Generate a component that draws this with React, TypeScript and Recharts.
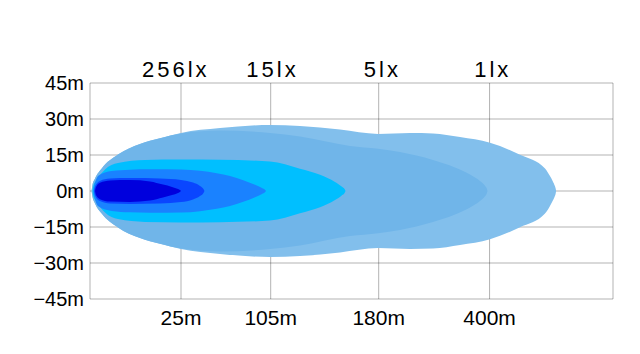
import { Area, AreaChart, CartesianGrid, XAxis, YAxis } from "recharts";

const yTicks = [45, 30, 15, 0, -15, -30, -45];
const yLabels = ["45m", "30m", "15m", "0m", "−15m", "−30m", "−45m"];

// bottom axis: distance markers (position along the beam, 0–100)
const distTicks = [17.4, 34.55, 55.2, 76.4];
const distLabels = ["25m", "105m", "180m", "400m"];

// top axis: illuminance at those distances
const luxTicks = [16.4, 34.9, 55.9, 77.0];
const luxLabels = ["256lx", "15lx", "5lx", "1lx"];

// beam contours, outermost first: position along the beam and half width (m)
const beam1X = [0.3, 0.45, 0.96, 2.24, 5.35, 9.56, 13.38, 17.4, 24.86, 34.42, 40.15, 47.8, 55.07, 61.19, 65.58, 70.75, 76.48, 82.22, 87.0, 87.95, 88.5, 88.85, 89.05, 89.12];
const beam1W = [0, 2.2, 5.2, 9.4, 15.2, 19.6, 22, 24.2, 26.2, 27.5, 27.1, 25.6, 23.8, 24.2, 24.0, 22.5, 20.1, 15.1, 9.4, 6.2, 4, 2.3, 0.9, 0];

const beam2X = [0.3, 0.45, 0.96, 2.24, 5.35, 9.56, 13.38, 17.4, 24.86, 34.42, 40.15, 49.71, 55.07, 59.27, 65.58, 69.79, 72.66, 74.57, 75.53, 75.9, 76.0];
const beam2W = [0, 2.2, 5.2, 9.4, 15.2, 19.6, 22, 24, 25.2, 24.2, 22.7, 18.8, 17.6, 16.2, 12.9, 9.8, 6.9, 4.2, 2.2, 0.8, 0];

const beam3X = [0.48, 0.62, 1.28, 2.87, 5.35, 10.52, 17.4, 24.86, 34.42, 40.15, 43.98, 46.85, 48.18, 48.7, 48.85];
const beam3W = [0, 2, 4.6, 9, 11.7, 12.9, 13.1, 13, 12.3, 9.3, 6.8, 3.8, 1.8, 0.7, 0];

const beam4X = [0.63, 0.75, 0.96, 1.59, 4.15, 7.65, 11.47, 17.4, 21.03, 24.23, 26.77, 29.31, 31.55, 32.89, 33.5, 33.65];
const beam4W = [0, 1.8, 3.5, 6.4, 8.3, 8.9, 9.1, 9, 8.4, 7.4, 6.2, 4.5, 2.6, 1.2, 0.4, 0];

const beam5X = [0.76, 0.88, 1.05, 1.91, 3.82, 7.65, 13.38, 17.4, 19.69, 21.03, 21.7, 21.89];
const beam5W = [0, 1.3, 2.3, 4.2, 5.2, 5.4, 5.2, 4.6, 3.5, 2.1, 0.8, 0];

const beam6X = [0.96, 1.08, 1.24, 1.91, 3.82, 7.65, 11.47, 13.96, 15.68, 16.83, 17.25, 17.4];
const beam6W = [0, 1.2, 2.0, 3.4, 4.4, 4.6, 4, 2.7, 1.7, 0.8, 0.3, 0];

const beams = [
  { xs: beam1X, ws: beam1W, color: "#82bfec" },
  { xs: beam2X, ws: beam2W, color: "#70b5e9" },
  { xs: beam3X, ws: beam3W, color: "#00bfff" },
  { xs: beam4X, ws: beam4W, color: "#1a82ff" },
  { xs: beam5X, ws: beam5W, color: "#0a46ff" },
  { xs: beam6X, ws: beam6W, color: "#0000dd" },
];

const toRange = (xs: number[], ws: number[]) =>
  xs.map((x, i) => ({ x, r: [-ws[i], ws[i]] }));

const font = "'Liberation Sans', Arial, sans-serif";

export default function App() {
  return (
    <div style={{ position: "absolute", left: 0, top: 0, background: "#fff" }}>
      <AreaChart width={640} height={354} margin={{ top: 0, right: 27, bottom: 0, left: 0 }}>
        {beams.map((b, i) => (
          <Area
            key={i}
            data={toRange(b.xs, b.ws)}
            dataKey="r"
            type="monotone"
            fill={b.color}
            fillOpacity={1}
            stroke="none"
            isAnimationActive={false}
          />
        ))}
        <CartesianGrid stroke="#000" strokeOpacity={0.3} />
        <XAxis
          dataKey="x"
          type="number"
          domain={[0, 100]}
          ticks={[0, ...distTicks, 100]}
          tickFormatter={(v: number) => {
            const i = distTicks.indexOf(v);
            return i >= 0 ? distLabels[i] : "";
          }}
          height={55}
          axisLine={false}
          tickLine={false}
          tickSize={6}
          tickMargin={5}
          tick={{ fontSize: 21, fill: "#000", fontFamily: font }}
          allowDataOverflow
        />
        <XAxis
          xAxisId="top"
          orientation="top"
          dataKey="x"
          type="number"
          domain={[0, 100]}
          ticks={luxTicks}
          tickFormatter={(v: number) => luxLabels[luxTicks.indexOf(v)] ?? ""}
          height={83}
          axisLine={false}
          tickLine={false}
          tickSize={6}
          tickMargin={0}
          tick={{ fontSize: 22, fill: "#000", fontFamily: font, letterSpacing: 3 }}
          allowDataOverflow
        />
        <YAxis
          type="number"
          domain={[-45, 45]}
          ticks={yTicks}
          tickFormatter={(v: number) => yLabels[yTicks.indexOf(v)] ?? ""}
          width={90}
          axisLine={false}
          tickLine={false}
          tickSize={6}
          tickMargin={0}
          tick={{ fontSize: 20, fill: "#000", fontFamily: font }}
          allowDataOverflow
        />
      </AreaChart>
    </div>
  );
}
